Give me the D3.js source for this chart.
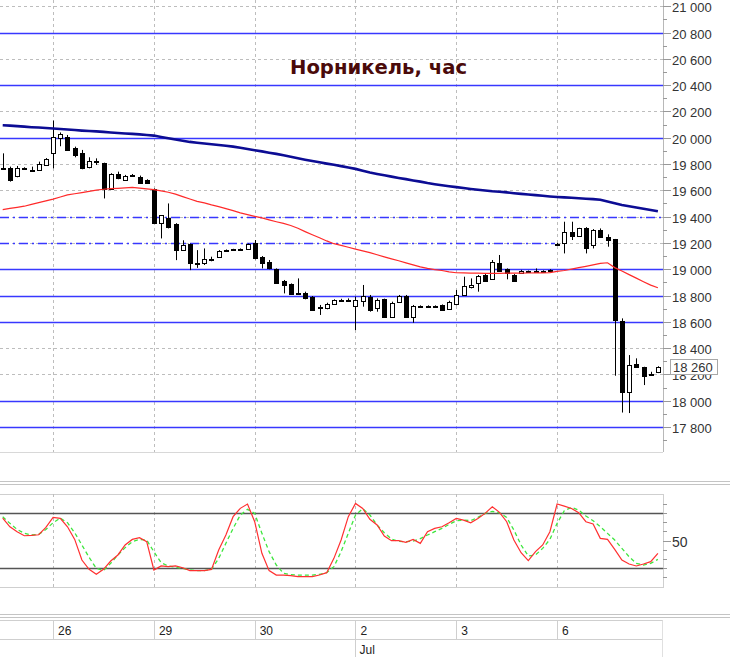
<!DOCTYPE html>
<html><head><meta charset="utf-8">
<script src="https://cdn.jsdelivr.net/npm/d3@7"></script>
<style>body{margin:0;background:#fff}svg{display:block}</style>
</head><body>
<svg id="c" width="730" height="657"></svg>
<script>
// ---------------- DATA ----------------
const title = "Норникель, час";
const open  = [19770,19767,19709,19770,19752,19755,19793,19881,20000,20008,19920,19886,19775,19820,19805,19610,19726,19679,19720,19701,19675,
19607,19353,19386,19343,19145,19189,19045,19044,19075,19095,19142,19148,19150,19153,
19197,19090,19057,18999,18913,18885,18821,18816,18786,18716,18702,18735,18764,18768,
18720,18761,18786,18702,18771,18634,18753,18796,18634,18720,18718,18720,18728,18698,
18735,18804,18862,18897,18956,18923,19049,18999,18956,18968,18985,18990,18986,18995,
19190,19197,19285,19255,19316,19184,19298,19247,19227,18608,18068,18279,18254,18200,18215];
const high  = [19881,19780,19785,19775,19780,19818,19845,20130,20040,20021,19932,19907,19851,19843,19810,19730,19742,19717,19724,19712,19684,
19614,19412,19500,19350,19220,19195,19145,19158,19095,19145,19150,19155,19158,19195,
19222,19100,19070,19006,18918,18892,18930,18829,18796,18728,18745,18771,18775,18778,
18791,18880,18804,18778,18776,18753,18804,18804,18728,18725,18725,18725,18732,18760,
18842,18943,18930,18956,18963,19070,19108,19006,18963,18995,18990,19006,18992,19000,
19200,19361,19361,19315,19320,19305,19310,19265,19230,18626,18347,18322,18258,18220,18262];
const low   = [19755,19666,19699,19760,19740,19750,19790,19767,19935,19902,19851,19760,19767,19793,19538,19605,19684,19675,19710,19650,19650,
19350,19234,19310,19069,19140,18993,19010,19032,19060,19090,19138,19143,19145,19150,
19075,19006,18999,18892,18816,18804,18806,18771,18685,18652,18695,18728,18760,18753,
18537,18715,18677,18677,18629,18629,18745,18634,18593,18712,18712,18712,18686,18690,
18725,18800,18854,18829,18905,18918,18981,18923,18910,18965,18975,18980,18980,18985,
19185,19120,19222,19250,19120,19158,19242,19171,18190,17910,17906,18250,18119,18195,18210];
const close = [19765,19679,19767,19765,19755,19800,19836,20008,20030,19907,19869,19767,19826,19815,19610,19726,19690,19709,19714,19655,19657,
19353,19412,19323,19145,19183,19044,19040,19075,19078,19140,19145,19150,19153,19189,
19082,19050,19006,18897,18880,18811,18811,18778,18690,18712,18735,18766,18768,18764,
18766,18796,18690,18766,18634,18745,18796,18634,18720,18718,18720,18716,18690,18750,
18804,18872,18880,18948,18913,19057,18989,18968,18913,18989,18981,18984,18988,18990,
19195,19285,19255,19310,19164,19298,19247,19222,18613,18068,18271,18258,18188,18205,18260];

const maLong = [20095,20092,20088,20084,20080,20077,20074,20070,20066,20062,20058,20054,20051,20048,20044,20040,20036,20032,20029,20025,20021,
20016,20006,19996,19986,19977,19968,19962,19956,19950,19944,19939,19932,19923,19914,
19905,19896,19886,19877,19866,19855,19844,19833,19823,19813,19803,19794,19784,19774,
19763,19749,19735,19724,19714,19704,19694,19685,19675,19666,19655,19646,19638,19631,
19624,19617,19610,19604,19599,19593,19589,19584,19578,19573,19568,19563,19558,19553,
19549,19546,19543,19539,19536,19533,19528,19515,19501,19488,19479,19469,19459,19450,19440];
const maShort = [19453,19462,19470,19479,19493,19506,19519,19533,19549,19565,19574,19583,19592,19602,19608,19612,19615,19618,19622,19616,19611,
19605,19595,19585,19571,19552,19534,19516,19504,19489,19476,19461,19445,19428,19415,
19402,19390,19375,19361,19348,19332,19311,19286,19262,19239,19215,19194,19181,19167,
19153,19139,19126,19110,19094,19079,19064,19048,19033,19018,19006,18997,18990,18980,
18973,18972,18970,18970,18969,18968,18969,18970,18970,18970,18971,18972,18972,18974,
18983,18990,19001,19012,19022,19033,19044,19049,19012,18986,18959,18932,18905,18879,18859];

const stochK = [74.5,65,59.6,55.2,55.6,56.3,64.3,75.2,74.2,65,51.2,28.7,18.5,13.1,18.5,27.6,34.2,45.1,51.2,53.1,48.7,
17.8,22.2,21.4,22.2,20.3,17.1,17.1,17.1,18.5,39.6,56,76,85.1,89.8,
70.5,36,17.1,12.3,12.3,11.6,10.5,10.5,10.5,12.3,14.9,30.5,50.5,76,
90.5,85,73.1,66.9,54.9,49.8,49.8,48,51.2,46.9,59.6,63.2,65,69.4,
74.1,72.3,69.4,74.1,79.6,86.9,80.7,70.5,50.5,36.7,28,37.8,45.1,59.6,
89.8,87.6,85,80.3,70.5,68,52.3,51.2,40.3,28.7,24.3,22.2,24.3,26.9,36];
const stochD = [76,68.7,62.1,57.8,56,56.7,62.1,69.4,74.5,69.4,58.5,45.1,31.6,19.6,17.1,25.1,34.2,42.2,48.7,51.2,50.5,
37.8,25.8,22.2,20.7,19.6,17.8,17.1,17.1,18.5,30.5,46.9,63.2,77.8,84,
79.6,57.8,37.8,23.2,14.2,12.7,12.3,12.3,12.3,13.1,14.9,21.4,37.8,57.8,
77.8,84.7,77.8,66.9,58.5,51.6,49.1,48.7,49.4,52,56,59.6,63.2,67.6,
71.6,72.3,71.6,75.2,79.6,81.8,80.3,75.2,61.4,45.1,33.1,34.2,41.4,51.2,
68.7,82.5,86.1,83.2,76.7,71.6,65.1,57.8,50.5,41.4,32.3,25.1,23.2,25.1,29.4];

const dayLabels = ["26","29","30","2","3","6"];
const dayStart  = [7,21,35,49,63,77];
const monthLabels = ["Jul"];
const monthStart  = [49];

const solidLevels  = [20800,20400,20000,19000,18800,18600,18000,17800];
const dashedLevels = [19400,19200];
const dashedLevelLastBar = [91,76];
const stochLevels = [80,20];
const priceTicks = d3.range(17800,21001,200);
const priceMinor = d3.range(17700,21001,100);
const stochTicks = [10,20,30,40,50,60,70,80,90];
const stochLabels = [50];
const lastPrice = 18260;

// ---------------- LAYOUT ----------------
const N = close.length;
const W = 730, plotR = 663;
const mainTop = 0, mainBot = 452;
const subTop = 494, subBot = 587;

const svg = d3.select("#c");
const x  = d3.scaleLinear().domain([0, N-1]).range([2.7, 657.9]);
const y  = d3.scaleLinear().domain([17800, 20800]).range([427, 32.5]);
const ys = d3.scaleLinear().domain([0, 100]).range([586.3, 494.7]);
const loc = d3.formatLocale({decimal:".", thousands:" ", grouping:[3], currency:["",""]});
const fmt = loc.format(",");
const px = v => Math.round(v) + 0.5;

const defs = svg.append("defs");
defs.append("clipPath").attr("id","cm").append("rect").attr("x",0).attr("y",mainTop).attr("width",plotR).attr("height",mainBot-mainTop);
defs.append("clipPath").attr("id","cs").append("rect").attr("x",0).attr("y",subTop).attr("width",plotR).attr("height",subBot-subTop);
defs.append("clipPath").attr("id","cl").append("rect").attr("x",plotR).attr("y",Math.round(y(lastPrice))+8).attr("width",W-plotR).attr("height",20);

// ---- main panel ----
const gm = svg.append("g").attr("clip-path","url(#cm)");
gm.selectAll("line.gh").data(priceTicks).join("line")
  .attr("x1",0).attr("x2",plotR).attr("y1",d=>px(y(d))).attr("y2",d=>px(y(d)))
  .attr("stroke","#bdbdbd").attr("stroke-dasharray","3,3");
gm.selectAll("line.gv").data(dayStart).join("line")
  .attr("x1",d=>px(x(d))).attr("x2",d=>px(x(d))).attr("y1",mainTop).attr("y2",mainBot)
  .attr("stroke","#bdbdbd").attr("stroke-dasharray","3,3");
gm.selectAll("line.ls").data(solidLevels).join("line")
  .attr("x1",0).attr("x2",plotR).attr("y1",d=>px(y(d))).attr("y2",d=>px(y(d)))
  .attr("stroke","#3838ff").attr("stroke-width",1.4);
gm.selectAll("line.ld").data(dashedLevels).join("line")
  .attr("x1",0).attr("x2",(d,i)=>dashedLevelLastBar[i]===N-1 ? plotR : x(dashedLevelLastBar[i])+5)
  .attr("y1",d=>px(y(d))).attr("y2",d=>px(y(d)))
  .attr("stroke","#3838ff").attr("stroke-width",1.7).attr("stroke-dasharray","9,4,2,4");

// candles
const cg = gm.append("g");
const idx = d3.range(N);
cg.selectAll("line.w").data(idx).join("line")
  .attr("x1",i=>Math.round(x(i))+0.5).attr("x2",i=>Math.round(x(i))+0.5)
  .attr("y1",i=>y(high[i])).attr("y2",i=>y(low[i]))
  .attr("stroke","#000").attr("stroke-width",1);
cg.selectAll("rect.b").data(idx).join("rect")
  .attr("x",i=>Math.round(x(i))-1.5).attr("width",4)
  .attr("y",i=>Math.round(y(Math.max(open[i],close[i])))+0.5)
  .attr("height",i=>Math.max(1,Math.round(y(Math.min(open[i],close[i])))-Math.round(y(Math.max(open[i],close[i])))))
  .attr("fill",i=>close[i]>=open[i]?"#fff":"#000")
  .attr("stroke","#000").attr("stroke-width",1);

// moving averages
const line = arr => d3.line().x((d,i)=>x(i)).y(d=>y(d))(arr);
gm.append("path").attr("d",line(maShort)).attr("fill","none").attr("stroke","#ff2a2a").attr("stroke-width",1.2);
gm.append("path").attr("d",line(maLong)).attr("fill","none").attr("stroke","#0c0c94").attr("stroke-width",2.6);

// frame
svg.append("line").attr("x1",plotR+0.5).attr("x2",plotR+0.5).attr("y1",0).attr("y2",mainBot).attr("stroke","#b8b8b8");
svg.append("line").attr("x1",0).attr("x2",plotR).attr("y1",mainBot+0.5).attr("y2",mainBot+0.5).attr("stroke","#d8d8d8");

// y axis (price)
const ya = svg.append("g").attr("font-family","Liberation Sans, Arial, sans-serif").attr("font-size",13).attr("fill","#333");
ya.selectAll("line.mi").data(priceMinor).join("line")
  .attr("x1",plotR).attr("x2",plotR+4).attr("y1",d=>px(y(d))).attr("y2",d=>px(y(d))).attr("stroke","#999");
ya.selectAll("line.ma").data(priceTicks).join("line")
  .attr("x1",plotR).attr("x2",plotR+8).attr("y1",d=>px(y(d))).attr("y2",d=>px(y(d))).attr("stroke","#999");
ya.selectAll("text").data(priceTicks).join("text")
  .attr("x",plotR+9).attr("y",d=>y(d)+6)
  .attr("clip-path",d=>Math.abs(y(d)-y(lastPrice))<14 ? "url(#cl)" : null)
  .text(d=>fmt(d));
// last price box
const lb = svg.append("g");
lb.append("rect").attr("x",670.5).attr("y",Math.round(y(lastPrice))-7.5).attr("width",47).attr("height",15)
  .attr("fill","#fff").attr("stroke","#a8a8a8");
lb.append("text").attr("x",673).attr("y",y(lastPrice)+5).attr("font-family","Liberation Sans, Arial, sans-serif")
  .attr("font-size",13).attr("fill","#333").text(fmt(lastPrice));

// title
svg.append("text").attr("x",290).attr("y",74).attr("font-family","DejaVu Sans, Verdana, sans-serif")
  .attr("font-size",19.6).attr("font-weight","bold").attr("fill","#4a0a0a").text(title);

// separators
function dbl(yy){
  svg.append("line").attr("x1",0).attr("x2",W).attr("y1",yy+0.5).attr("y2",yy+0.5).attr("stroke","#c4c4c4").attr("stroke-width",1.2);
  svg.append("line").attr("x1",0).attr("x2",W).attr("y1",yy+3.5).attr("y2",yy+3.5).attr("stroke","#c4c4c4").attr("stroke-width",1.2);
}
dbl(481); dbl(614);

// ---- stochastic panel ----
svg.append("rect").attr("x",-1).attr("y",subTop+0.5).attr("width",plotR+1.5).attr("height",subBot-subTop)
  .attr("fill","#fff").attr("stroke","#cfcfcf");
const gs = svg.append("g").attr("clip-path","url(#cs)");
gs.selectAll("line.gv").data(dayStart).join("line")
  .attr("x1",d=>px(x(d))).attr("x2",d=>px(x(d))).attr("y1",subTop).attr("y2",subBot)
  .attr("stroke","#bdbdbd").attr("stroke-dasharray","3,3");
gs.selectAll("line.sl").data(stochLevels).join("line")
  .attr("x1",0).attr("x2",plotR).attr("y1",d=>px(ys(d))).attr("y2",d=>px(ys(d)))
  .attr("stroke","#555").attr("stroke-width",1.6);
const sline = arr => d3.line().x((d,i)=>x(i)).y(d=>ys(d))(arr);
gs.append("path").attr("d",sline(stochD)).attr("fill","none").attr("stroke","#3ee63e").attr("stroke-width",1.3).attr("stroke-dasharray","4,3");
gs.append("path").attr("d",sline(stochK)).attr("fill","none").attr("stroke","#ff3030").attr("stroke-width",1.2);
const sa = svg.append("g");
sa.selectAll("line").data(stochTicks).join("line")
  .attr("x1",plotR).attr("x2",d=>plotR+(stochLabels.includes(d)?8:4)).attr("y1",d=>px(ys(d))).attr("y2",d=>px(ys(d))).attr("stroke","#999");
sa.selectAll("text").data(stochLabels).join("text")
  .attr("x",plotR+9).attr("y",d=>ys(d)+6).attr("font-family","Liberation Sans, Arial, sans-serif")
  .attr("font-size",14).attr("fill","#333").text(d=>d);

// ---- time axis ----
const ta = svg.append("g").attr("font-family","Liberation Sans, Arial, sans-serif").attr("font-size",12).attr("fill","#222");
const r1 = 620.5, r2 = 639.5, r3 = 657;
ta.append("line").attr("x1",0).attr("x2",plotR).attr("y1",r1).attr("y2",r1).attr("stroke","#cfcfcf");
ta.append("line").attr("x1",0).attr("x2",plotR).attr("y1",r2).attr("y2",r2).attr("stroke","#cfcfcf");
ta.append("line").attr("x1",plotR-0.5).attr("x2",plotR-0.5).attr("y1",r1).attr("y2",r3).attr("stroke","#e0e0e0");
ta.selectAll("line.d").data(dayStart).join("line")
  .attr("x1",d=>px(x(d))).attr("x2",d=>px(x(d))).attr("y1",r1).attr("y2",r2).attr("stroke","#cfcfcf");
ta.selectAll("text.d").data(dayLabels).join("text")
  .attr("x",(d,i)=>x(dayStart[i])+5).attr("y",635).text(d=>d);
ta.selectAll("line.m").data(monthStart).join("line")
  .attr("x1",d=>px(x(d))).attr("x2",d=>px(x(d))).attr("y1",r2).attr("y2",r3).attr("stroke","#cfcfcf");
ta.selectAll("text.m").data(monthLabels).join("text")
  .attr("x",(d,i)=>x(monthStart[i])+4).attr("y",654).text(d=>d);
</script>
</body></html>
